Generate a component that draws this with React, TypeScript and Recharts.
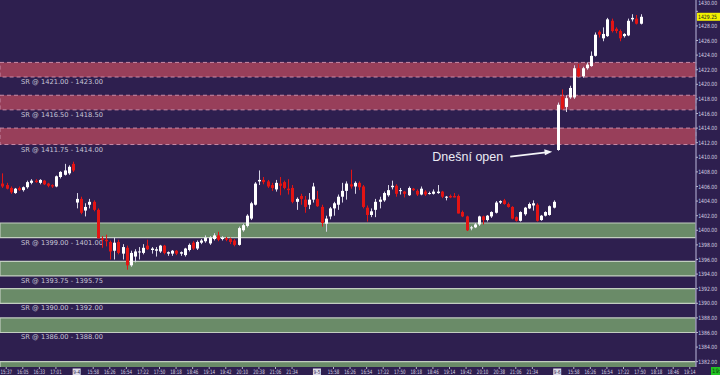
import React from 'react';
import {
  ComposedChart,
  Bar,
  XAxis,
  YAxis,
  ReferenceArea,
  ReferenceDot,
} from 'recharts';

// Candles as [open, high, low, close], one per 7-minute slot
const day0903 = [
  [1406.4, 1407.8, 1405.8, 1406.0], [1406.2, 1406.5, 1405.6, 1405.7], [1405.8, 1406.0, 1405.0, 1405.2],
  [1405.1, 1405.8, 1405.0, 1405.7], [1405.8, 1406.0, 1405.4, 1405.5], [1405.5, 1406.0, 1405.3, 1405.9],
  [1405.9, 1406.8, 1405.7, 1406.6], [1406.5, 1407.0, 1406.3, 1406.8], [1406.8, 1407.0, 1406.5, 1406.6],
  [1406.5, 1407.0, 1406.3, 1406.9], [1406.8, 1406.9, 1406.2, 1406.3], [1406.4, 1406.5, 1405.9, 1406.1],
  [1406.2, 1406.3, 1405.8, 1406.0], [1406.0, 1407.5, 1405.9, 1407.4], [1407.3, 1408.1, 1407.1, 1408.0],
  [1407.6, 1409.1, 1407.5, 1408.2], [1407.8, 1408.9, 1407.6, 1408.7], [1409.1, 1409.4, 1408.0, 1408.2],
];

const day0904 = [
  [1403.8, 1405.1, 1403.0, 1404.3], [1404.3, 1404.6, 1402.2, 1402.4], [1402.7, 1403.7, 1401.9, 1403.2],
  [1403.5, 1404.3, 1403.0, 1403.9], [1403.9, 1404.1, 1402.6, 1402.8], [1402.8, 1403.0, 1398.9, 1398.9],
  [1398.9, 1399.2, 1397.6, 1398.7], [1398.7, 1399.4, 1397.8, 1398.5], [1398.4, 1398.6, 1396.0, 1397.1],
  [1397.2, 1399.0, 1396.0, 1398.3], [1398.4, 1398.7, 1396.7, 1396.9], [1396.8, 1398.1, 1396.0, 1397.7],
  [1397.6, 1397.9, 1394.6, 1395.2], [1395.2, 1397.2, 1395.0, 1396.9], [1396.4, 1397.4, 1395.6, 1397.1],
  [1397.0, 1397.7, 1396.0, 1397.1], [1396.9, 1398.1, 1396.7, 1397.6], [1397.9, 1398.7, 1397.3, 1397.4],
  [1397.3, 1397.7, 1396.8, 1397.5], [1397.2, 1397.7, 1396.4, 1397.4], [1397.1, 1398.0, 1396.9, 1397.9],
  [1397.9, 1398.0, 1396.7, 1396.9], [1396.8, 1397.1, 1396.5, 1397.0], [1396.8, 1397.3, 1396.5, 1397.2],
  [1397.2, 1397.3, 1396.6, 1396.8], [1396.8, 1397.1, 1396.5, 1397.0], [1396.6, 1397.6, 1396.4, 1397.5],
  [1397.3, 1398.2, 1397.1, 1398.0], [1398.3, 1398.5, 1397.3, 1397.5], [1397.5, 1398.6, 1397.3, 1398.4],
  [1398.3, 1398.8, 1398.1, 1398.6], [1398.5, 1399.3, 1398.3, 1399.0], [1398.2, 1399.2, 1398.0, 1399.0],
  [1398.8, 1399.6, 1398.6, 1399.3], [1399.3, 1399.8, 1398.5, 1398.7], [1398.8, 1399.2, 1398.6, 1399.0],
  [1398.9, 1399.1, 1398.5, 1398.7], [1398.8, 1399.0, 1398.1, 1398.4], [1398.6, 1398.8, 1397.8, 1398.0],
  [1398.0, 1400.5, 1397.9, 1400.3], [1400.0, 1400.9, 1399.8, 1400.7], [1400.6, 1402.2, 1400.4, 1402.0],
  [1401.6, 1403.9, 1401.4, 1403.7], [1403.5, 1406.6, 1403.4, 1406.4], [1406.7, 1408.2, 1406.2, 1406.9],
  [1406.9, 1407.3, 1406.3, 1406.6], [1406.7, 1406.9, 1405.8, 1406.0], [1406.2, 1406.5, 1405.4, 1405.8],
  [1405.6, 1406.9, 1405.3, 1406.5], [1406.4, 1407.3, 1404.8, 1406.1], [1406.6, 1406.8, 1405.6, 1405.8],
  [1405.7, 1407.0, 1404.9, 1405.5], [1405.8, 1406.2, 1403.7, 1403.9], [1403.9, 1404.5, 1402.8, 1404.3],
  [1404.7, 1405.0, 1403.5, 1404.3], [1404.2, 1404.7, 1402.4, 1403.2], [1403.5, 1405.1, 1402.9, 1404.2],
  [1404.2, 1406.5, 1403.8, 1406.0],
];

const day0905 = [
  [1404.3, 1405.4, 1403.2, 1403.3], [1403.2, 1403.5, 1400.5, 1401.0], [1400.9, 1402.0, 1399.8, 1401.6],
  [1401.9, 1403.2, 1401.5, 1403.0], [1403.0, 1403.9, 1402.0, 1403.7], [1403.5, 1404.9, 1402.8, 1404.6],
  [1404.6, 1406.5, 1403.8, 1405.4], [1405.4, 1406.7, 1404.2, 1406.4], [1406.3, 1408.3, 1405.7, 1406.0],
  [1406.0, 1406.7, 1405.0, 1406.5], [1406.5, 1406.7, 1405.5, 1405.9], [1406.0, 1406.2, 1403.0, 1403.2],
  [1403.1, 1403.4, 1401.2, 1402.1], [1402.1, 1403.0, 1401.8, 1402.6], [1402.8, 1404.3, 1401.8, 1403.9],
  [1403.9, 1404.6, 1403.0, 1404.2], [1404.1, 1405.3, 1403.9, 1405.1], [1404.8, 1406.2, 1404.6, 1405.5],
  [1405.9, 1406.8, 1405.6, 1406.1], [1406.1, 1406.3, 1404.6, 1405.0], [1405.4, 1405.8, 1404.9, 1405.5],
  [1405.3, 1405.4, 1404.5, 1405.0], [1404.8, 1406.0, 1404.7, 1405.8], [1405.7, 1405.8, 1405.4, 1405.5],
  [1405.4, 1405.6, 1404.7, 1404.9], [1404.9, 1406.0, 1404.8, 1405.7], [1405.3, 1405.5, 1404.7, 1404.9],
  [1405.0, 1405.3, 1404.9, 1405.1], [1405.0, 1405.6, 1404.9, 1405.3], [1405.1, 1406.2, 1405.0, 1405.3],
  [1405.3, 1405.4, 1404.4, 1404.6], [1404.5, 1404.7, 1404.1, 1404.6], [1404.7, 1404.9, 1404.4, 1404.5],
  [1404.7, 1405.1, 1404.5, 1404.5], [1404.7, 1404.9, 1402.3, 1402.3], [1402.5, 1402.7, 1401.8, 1401.9],
  [1401.9, 1402.0, 1399.9, 1400.0], [1400.3, 1400.6, 1400.0, 1400.4], [1400.4, 1401.0, 1400.3, 1400.8],
  [1400.8, 1402.0, 1400.6, 1401.9], [1401.9, 1402.0, 1400.8, 1401.4], [1401.4, 1402.1, 1401.2, 1402.0],
  [1401.9, 1402.6, 1401.7, 1402.5], [1402.4, 1404.0, 1402.3, 1403.8], [1403.8, 1404.1, 1403.6, 1404.0],
  [1404.1, 1404.3, 1403.5, 1403.6], [1403.6, 1403.8, 1403.1, 1403.2], [1403.2, 1403.3, 1401.5, 1401.6],
  [1401.8, 1401.9, 1401.2, 1401.3], [1401.3, 1402.6, 1401.2, 1402.5], [1402.2, 1403.2, 1402.0, 1403.1],
  [1403.0, 1403.8, 1402.9, 1403.6], [1403.4, 1404.1, 1402.7, 1403.7], [1403.5, 1403.7, 1401.2, 1401.3],
  [1401.4, 1402.1, 1401.3, 1402.0], [1402.0, 1402.6, 1401.9, 1402.5], [1402.1, 1403.4, 1402.0, 1403.3],
  [1403.1, 1404.1, 1403.0, 1403.9],
];

const day0906 = [
  [1411.0, 1417.5, 1410.9, 1417.2], [1418.3, 1419.3, 1416.5, 1416.7], [1416.9, 1418.5, 1416.2, 1418.1],
  [1418.2, 1419.8, 1418.0, 1419.5], [1418.2, 1422.6, 1418.0, 1422.2], [1422.2, 1422.8, 1421.0, 1421.1],
  [1421.1, 1422.4, 1420.9, 1422.2], [1422.2, 1423.0, 1422.0, 1422.7], [1422.5, 1424.5, 1422.4, 1423.9],
  [1423.9, 1427.1, 1423.8, 1426.8], [1427.2, 1427.4, 1426.4, 1426.8], [1426.3, 1427.8, 1425.9, 1426.9],
  [1426.6, 1429.1, 1426.5, 1428.9], [1428.7, 1429.0, 1427.1, 1427.3], [1427.6, 1427.8, 1427.0, 1427.3],
  [1427.3, 1427.5, 1425.9, 1426.3], [1426.6, 1427.0, 1426.4, 1426.9], [1426.7, 1429.0, 1426.6, 1428.7],
  [1428.9, 1429.6, 1428.6, 1429.1], [1429.0, 1429.5, 1428.2, 1428.3], [1428.3, 1429.6, 1428.2, 1429.25],
];

const dayStartSlots = [0, 18, 76, 134];
const SLOT_COUNT = 168;

// Support / resistance zones [low, high]
const resistanceZones = [
  [1421.0, 1423.0],
  [1416.5, 1418.5],
  [1411.75, 1414.0],
];
const supportZones = [
  [1399.0, 1401.0],
  [1393.75, 1395.75],
  [1390.0, 1392.0],
  [1386.0, 1388.0],
  [1380.0, 1382.0],
];

const dateTickSlots = [18, 76, 134];
const dateTickLabels = ['9-4', '9-5', '9-6'];
const timeTickSlots = [
  1, 5, 9, 13,
  22, 26, 30, 34, 38, 42, 46, 50, 54, 58, 62, 66, 70,
  80, 84, 88, 92, 96, 100, 104, 108, 112, 116, 120, 124, 128,
  138, 142, 146, 150, 154, 158, 162, 166,
];
const timeTickLabels = [
  '15:37', '16:05', '16:33', '17:01',
  '15:58', '16:26', '16:54', '17:22', '17:50', '18:18', '18:46', '19:14', '19:42', '20:10', '20:38', '21:06', '21:34',
  '15:58', '16:26', '16:54', '17:22', '17:50', '18:18', '18:46', '19:14', '19:42', '20:10', '20:38', '21:06', '21:34',
  '15:58', '16:26', '16:54', '17:22', '17:50', '18:18', '18:46', '19:14',
];

const priceTicks = [
  1382, 1384, 1386, 1388, 1390, 1392, 1394, 1396, 1398, 1400, 1402, 1404, 1406,
  1408, 1410, 1412, 1414, 1416, 1418, 1420, 1422, 1424, 1426, 1428, 1430,
];
const lastPrice = 1429.25;
const openSlot = 134;
const openLow = 1410.9;

const BG = '#2e1f4f';
const UP = '#ffffff';
const DOWN = '#e31414';
const SMALL_FONT = "'DejaVu Sans Condensed', 'DejaVu Sans', sans-serif";

// one row per slot, empty slots stay empty (future part of the axis)
const rows: any[] = Array.from({ length: SLOT_COUNT }, (_, slot) => ({ slot }));
[day0903, day0904, day0905, day0906].forEach((day, i) => {
  day.forEach(([o, h, l, c], k) => {
    Object.assign(rows[dayStartSlots[i] + k], { o, h, l, c, range: [l, h] });
  });
});

const tickText: Record<number, { label: string; date: boolean }> = {};
timeTickSlots.forEach((s, i) => (tickText[s] = { label: timeTickLabels[i], date: false }));
dateTickSlots.forEach((s, i) => (tickText[s] = { label: dateTickLabels[i], date: true }));
const allTickSlots = [...timeTickSlots, ...dateTickSlots].sort((a, b) => a - b);

function Candle(props: any) {
  const { x, y, width, height, payload } = props;
  if (!payload || payload.o == null) return null;
  const { o, h, l, c } = payload;
  const top = Math.min(y, y + height);
  const full = Math.abs(height);
  const ppu = full / (h - l);
  const up = c >= o;
  const cx = Math.round(x + width / 2) + 0.5;
  const bodyTop = top + (h - Math.max(o, c)) * ppu;
  const bodyH = Math.max(1, Math.abs(o - c) * ppu);
  const color = up ? UP : DOWN;
  return (
    <g>
      <line x1={cx} x2={cx} y1={top} y2={top + full} stroke={up ? '#d8d6e6' : DOWN} strokeWidth={1} />
      <rect x={cx - 1.5} y={bodyTop} width={3} height={bodyH} fill={color} />
    </g>
  );
}

function TimeTick(props: any) {
  const { x, y, payload } = props;
  const t = tickText[payload.value];
  if (!t) return null;
  if (t.date) {
    return (
      <g>
        <rect x={x - 4} y={y + 1.5} width={8} height={7.5} fill="#dcdae8" />
        <text
          x={x - 3.4}
          y={y + 7.2}
          fontSize={5.5}
          fontFamily={SMALL_FONT}
          fill="#2e1f4f"
          textLength={6.8}
          lengthAdjust="spacingAndGlyphs"
        >
          {t.label}
        </text>
      </g>
    );
  }
  return (
    <g>
      <line x1={x} x2={x} y1={y} y2={y + 2} stroke="#b8b4cc" strokeWidth={1} />
      <text
        x={x - 5.8}
        y={y + 7.2}
        fontSize={6}
        fontFamily={SMALL_FONT}
        fill="#d4d2e2"
        textLength={11.6}
        lengthAdjust="spacingAndGlyphs"
      >
        {t.label}
      </text>
    </g>
  );
}

function PriceTick(props: any) {
  const { x, y, payload } = props;
  const v = payload.value;
  if (v === lastPrice) {
    return (
      <g>
        <rect x={x + 1} y={y - 4} width={23} height={8} fill="#f2f200" />
        <text
          x={x + 2}
          y={y + 2.1}
          fontSize={5.8}
          fontFamily={SMALL_FONT}
          fill="#222"
          textLength={19}
          lengthAdjust="spacingAndGlyphs"
        >
          {v.toFixed(2)}
        </text>
      </g>
    );
  }
  // top label is pushed up by the price flag
  const ty = v === 1430 ? y - 8 : y;
  return (
    <g>
      <line x1={x} x2={x + 2} y1={y} y2={y} stroke="#b8b4cc" strokeWidth={1} />
      <text
        x={x + 2.2}
        y={ty + 2.1}
        fontSize={5.8}
        fontFamily={SMALL_FONT}
        fill="#d4d2e2"
        textLength={19}
        lengthAdjust="spacingAndGlyphs"
      >
        {v.toFixed(2)}
      </text>
    </g>
  );
}

function ZoneLabel(props: any) {
  const { viewBox, text } = props;
  if (!viewBox) return null;
  return (
    <text
      x={viewBox.x + 21}
      y={viewBox.y + viewBox.height + 7}
      fontSize={6.7}
      fontFamily="'DejaVu Sans', sans-serif"
      fill="#c9c6d8"
      textLength={82}
      lengthAdjust="spacingAndGlyphs"
    >
      {text}
    </text>
  );
}

function OpenNote(props: any) {
  const { cx, cy } = props;
  if (cx == null || cy == null) return null;
  const tipX = cx - 5;
  const tipY = cy + 1;
  const tailX = cx - 47;
  const tailY = cy + 6;
  return (
    <g>
      <line x1={tailX} y1={tailY} x2={tipX - 6} y2={tipY + 0.7} stroke="#f4f4f8" strokeWidth={1.8} />
      <polygon
        points={`${tipX},${tipY} ${tipX - 8},${tipY - 2.6} ${tipX - 7.3},${tipY + 3.6}`}
        fill="#f4f4f8"
      />
      <text
        x={cx - 54}
        y={cy + 6}
        textAnchor="end"
        dominantBaseline="central"
        fontSize={12.5}
        fontFamily="'Liberation Sans', Arial, sans-serif"
        fill="#ecebf4"
      >
        Dnešní open
      </text>
    </g>
  );
}

export default function App() {
  return (
    <div style={{ position: 'relative', width: 720, height: 375, background: BG, overflow: 'hidden' }}>
      <style>{'body{margin:0}'}</style>
      <ComposedChart width={720} height={375} data={rows} margin={{ top: 0, right: 0, left: 0, bottom: 0 }}>
        <XAxis
          dataKey="slot"
          type="category"
          ticks={allTickSlots}
          interval={0}
          height={8}
          tickSize={0}
          tickMargin={0}
          axisLine={false}
          tickLine={false}
          tick={<TimeTick />}
        />
        <YAxis
          orientation="right"
          width={24}
          domain={[1381.27, 1431.55]}
          allowDataOverflow
          ticks={[...priceTicks, lastPrice]}
          interval={0}
          tickSize={0}
          tickMargin={0}
          tickLine={false}
          axisLine={{ stroke: '#8d86ad', strokeWidth: 1.5 }}
          tick={<PriceTick />}
        />
        {resistanceZones.map(([lo, hi]) => (
          <ReferenceArea
            key={`r${lo}`}
            y1={lo}
            y2={hi}
            fill="#983f5a"
            fillOpacity={1}
            stroke="#c88aa6"
            strokeDasharray="4 3"
            strokeWidth={1}
            label={<ZoneLabel text={`SR @ ${lo.toFixed(2)} - ${hi.toFixed(2)}`} />}
          />
        ))}
        {supportZones.map(([lo, hi]) => (
          <ReferenceArea
            key={`s${lo}`}
            y1={lo}
            y2={hi}
            ifOverflow="hidden"
            fill="#6a8b68"
            fillOpacity={1}
            stroke="#c2cec0"
            strokeWidth={1.2}
            label={lo > 1381 ? <ZoneLabel text={`SR @ ${lo.toFixed(2)} - ${hi.toFixed(2)}`} /> : undefined}
          />
        ))}
        <Bar dataKey="range" barSize={3} shape={<Candle />} isAnimationActive={false} />
        <ReferenceDot x={openSlot} y={openLow} r={0} shape={<OpenNote />} />
      </ComposedChart>
      <div
        style={{
          position: 'absolute',
          left: 711,
          top: 367,
          width: 9,
          height: 8,
          background: '#22c322',
          overflow: 'hidden',
          font: `6px ${SMALL_FONT}`,
          lineHeight: '8px',
          color: '#0b3a0b',
          paddingLeft: 1,
        }}
      >
        19:2
      </div>
    </div>
  );
}
